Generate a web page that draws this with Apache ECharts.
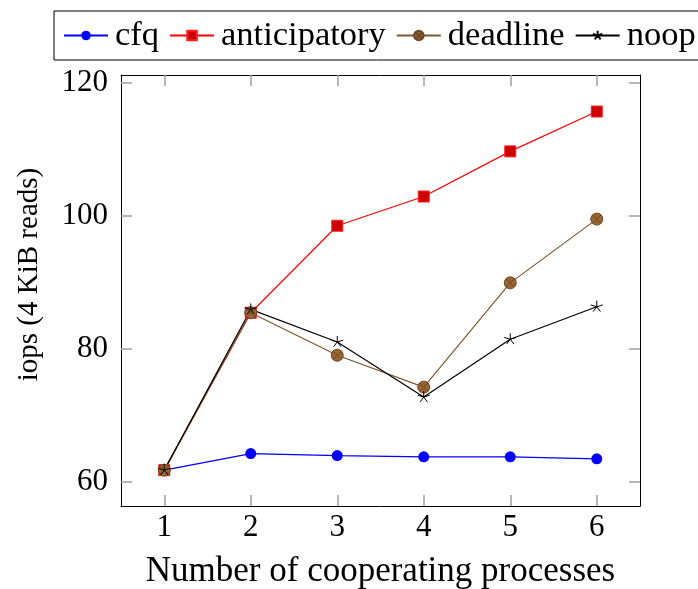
<!DOCTYPE html>
<html>
<head>
<meta charset="utf-8">
<title>iops vs cooperating processes</title>
<script src="https://cdn.jsdelivr.net/npm/echarts@6/dist/echarts.min.js"></script>
<style>
  html, body { margin: 0; padding: 0; background: #fff; }
  #chart { width: 698px; height: 589px; }
</style>
</head>
<body>
<div id="chart"></div>
<script>
// Number of cooperating processes (x) and measured iops per I/O scheduler
const processes = [1, 2, 3, 4, 5, 6];
const cfq = [61.7, 64.2, 63.9, 63.7, 63.7, 63.4];
const anticipatory = [61.7, 85.4, 98.5, 102.9, 109.7, 115.7];
const deadline = [61.7, 85.4, 79.0, 74.2, 89.9, 99.5];
const noop = [61.7, 85.9, 81.0, 72.7, 81.4, 86.3];

const xTicks = [1, 2, 3, 4, 5, 6];
const yTicks = [60, 80, 100, 120];

const FONT = '"Liberation Serif", "Times New Roman", serif';

const pairs = ys => processes.map((x, i) => [x, ys[i]]);

// Marker shapes: circle with a cross (otimes) and a five-armed asterisk
const otimesPath = 'path://M-10,0A10,10,0,1,0,10,0A10,10,0,1,0,-10,0ZM-7.07,-7.07L7.07,7.07M7.07,-7.07L-7.07,7.07';
const starPath = 'path://M0,0L0,-10M0,0L9.51,-3.09M0,0L5.88,8.09M0,0L-5.88,8.09M0,0L-9.51,-3.09M0,10L0,10';

const tickStyle = { show: true, inside: true, length: 11, lineStyle: { color: '#a0a0a0', width: 1.5 } };
const frameLine = { show: true, onZero: false, lineStyle: { color: '#000', width: 1 } };

const chart = echarts.init(document.getElementById('chart'), null, { renderer: 'canvas' });

chart.setOption({
  animation: false,
  backgroundColor: '#fff',
  textStyle: { fontFamily: FONT },
  legend: {
    left: 54,
    top: 11,
    width: 720,
    orient: 'horizontal',
    padding: [7, 14, 7, 9],
    borderColor: '#000',
    borderWidth: 1,
    itemWidth: 44,
    itemHeight: 12,
    itemGap: 10,
    textStyle: { fontFamily: FONT, fontSize: 34.5, color: '#000', lineHeight: 35, padding: [0, 0, 0, 2] },
    data: ['cfq', 'anticipatory', 'deadline', 'noop']
  },
  grid: { left: 121, top: 75, width: 519, height: 431, containLabel: false, outerBoundsMode: 'none' },
  xAxis: [
    {
      type: 'value', position: 'bottom', min: 0.5, max: 6.5,
      axisLine: frameLine,
      axisTick: Object.assign({ customValues: xTicks }, tickStyle),
      axisLabel: { customValues: xTicks, fontFamily: FONT, fontSize: 31, color: '#000', margin: 6 },
      splitLine: { show: false },
      name: 'Number of cooperating processes',
      nameLocation: 'middle',
      nameGap: 48,
      nameTextStyle: { fontFamily: FONT, fontSize: 35, color: '#000' }
    },
    {
      type: 'value', position: 'top', min: 0.5, max: 6.5,
      axisLine: frameLine,
      axisTick: Object.assign({ customValues: xTicks }, tickStyle),
      axisLabel: { show: false },
      splitLine: { show: false }
    }
  ],
  yAxis: [
    {
      type: 'value', position: 'left', min: 56.3, max: 121.2,
      axisLine: frameLine,
      axisTick: Object.assign({ customValues: yTicks }, tickStyle),
      axisLabel: { customValues: yTicks, fontFamily: FONT, fontSize: 31, color: '#000', margin: 13 },
      splitLine: { show: false },
      name: 'iops (4 KiB reads)',
      nameLocation: 'middle',
      nameRotate: 90,
      nameGap: 77,
      nameTextStyle: { fontFamily: FONT, fontSize: 29, color: '#000', padding: [0, 0, 0, 32] }
    },
    {
      type: 'value', position: 'right', min: 56.3, max: 121.2,
      axisLine: frameLine,
      axisTick: Object.assign({ customValues: yTicks }, tickStyle),
      axisLabel: { show: false },
      splitLine: { show: false }
    }
  ],
  series: [
    {
      name: 'cfq', type: 'line', data: pairs(cfq),
      symbol: 'circle', symbolSize: 11,
      lineStyle: { color: '#0000ff', width: 1.2 },
      itemStyle: { color: '#0000ff', borderColor: '#0000ff', borderWidth: 0 }
    },
    {
      name: 'anticipatory', type: 'line', data: pairs(anticipatory),
      symbol: 'rect', symbolSize: 11,
      lineStyle: { color: '#ff0000', width: 1.2 },
      itemStyle: { color: '#cc0000', borderColor: '#ff2020', borderWidth: 1 }
    },
    {
      name: 'deadline', type: 'line', data: pairs(deadline),
      symbol: otimesPath, symbolSize: 12,
      lineStyle: { color: '#7f5630', width: 1.2 },
      itemStyle: { color: '#996633', borderColor: '#6b4726', borderWidth: 1 }
    },
    {
      name: 'noop', type: 'line', data: pairs(noop),
      symbol: starPath, symbolSize: 12,
      lineStyle: { color: '#000', width: 1.2 },
      itemStyle: { color: '#000', borderColor: '#000', borderWidth: 1 }
    }
  ]
});
</script>
</body>
</html>
